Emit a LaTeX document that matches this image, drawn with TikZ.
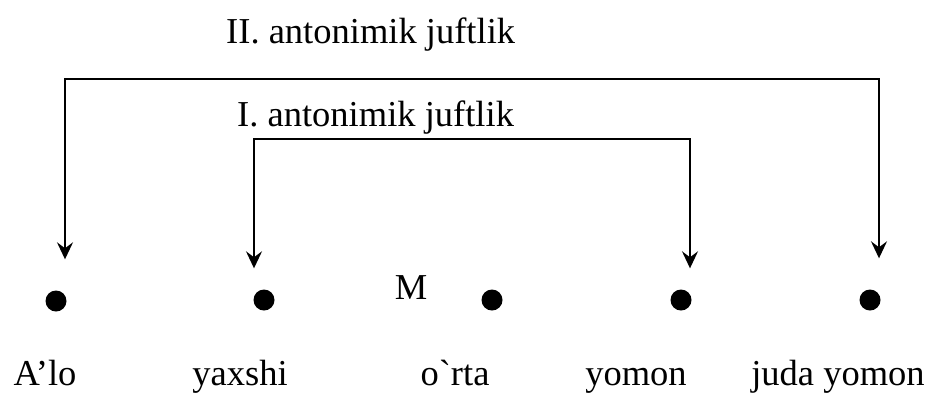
\documentclass[tikz,border=0pt]{standalone}
\usepackage{fontspec}
\newfontfamily\lserif{Liberation Serif}
\usetikzlibrary{arrows.meta}
\begin{document}
\begin{tikzpicture}[x=1pt,y=-1pt,
  txt/.style={font=\lserif\fontsize{36.5}{44}\selectfont, inner sep=0pt},
  dot/.style={circle, fill=black, minimum size=21pt, inner sep=0pt},
  tip/.style={Stealth[length=17pt,width=16pt,inset=6pt]},
  arr/.style={line width=1.9pt, {Stealth[length=17pt,width=16pt,inset=6pt]}-{Stealth[length=17pt,width=16pt,inset=6pt]}}]
\useasboundingbox (0,0) rectangle (934,392);
% dots
\node[dot] (d1) at (56,301) {};
\node[dot] (d2) at (264,300) {};
\node[dot] (d3) at (492,300) {};
\node[dot] (d4) at (681,300) {};
\node[dot] (d5) at (870,300) {};
% labels
\node[txt, anchor=base] (l1) at (45,385) {A’lo};
\node[txt, anchor=base] (l2) at (240,385) {yaxshi};
\node[txt, anchor=base] (l3) at (455,385) {o\char"60 rta};
\node[txt, anchor=base] (l4) at (636,385) {yomon};
\node[txt, anchor=base] (l5) at (838,385) {juda yomon};
\node[txt, anchor=base] (m) at (411,299) {M};
\node[txt, anchor=base west] (t2) at (226,43) {II. antonimik juftlik};
\node[txt, anchor=base west] (t1) at (237,126) {I. antonimik juftlik};
% brackets
\coordinate (cII) at (470,79);
\coordinate (cI) at (470,139);
\draw[arr] ([shift={(9pt,31pt)}]d1.north) |- (cII) -| ([shift={(9pt,31pt)}]d5.north);
\draw[arr] ([shift={(-10pt,21pt)}]d2.north) |- (cI) -| ([shift={(9pt,21pt)}]d4.north);
\end{tikzpicture}
\end{document}
